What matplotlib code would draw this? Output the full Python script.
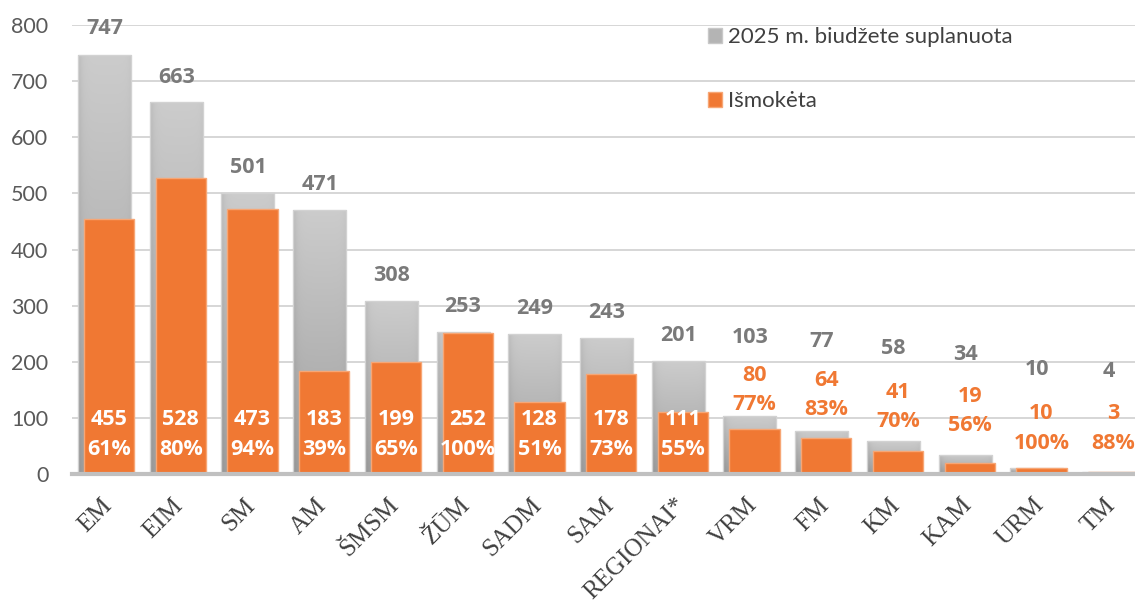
import numpy as np
import matplotlib
matplotlib.use("Agg")
import matplotlib.pyplot as plt
from matplotlib.patches import Rectangle

# ---------------- data ----------------
categories = ["EM", "EIM", "SM", "AM", "ŠMSM", "ŽŪM", "SADM", "SAM", "REGIONAI*",
              "VRM", "FM", "KM", "KAM", "URM", "TM"]
planned = [747, 663, 501, 471, 308, 253, 249, 243, 201, 103, 77, 58, 34, 10, 4]
paid = [455, 528, 473, 183, 199, 252, 128, 178, 111, 80, 64, 41, 19, 10, 3]
paid_pct = ["61%", "80%", "94%", "39%", "65%", "100%", "51%", "73%", "55%",
            "77%", "83%", "70%", "56%", "100%", "88%"]
legend_labels = ["2025 m. biudžete suplanuota", "Išmokėta"]
yticks = [0, 100, 200, 300, 400, 500, 600, 700, 800]

# label placement (data units, styling only)
planned_label_y = [793, 707, 546, 516, 353, 298, 295, 288, 247, 244, 236, 224, 213, 187, 183]
paid_label_y = [97] * 9 + [175, 166, 146, 138, 107, 107]
pct_label_y = [43] * 9 + [123, 115, 94, 87, 54, 54]
inside = [True] * 9 + [False] * 6

# ---------------- style ----------------
W, H = 1135, 604
fig = plt.figure(figsize=(W / 100, H / 100), dpi=100)
ax = fig.add_axes([72 / W, (H - 474) / H, (W - 72) / W, (474 - 25) / H])

ORANGE = "#F07833"
ORANGE_EDGE = "#F7A675"
GRAY_TXT = "#7A7A7A"
SANS = "Lato"
BOLD = "Open Sans"

x = np.arange(len(categories))
gray_w = 0.74
or_w = 0.70
or_off = 0.065

gray_bars = ax.bar(x, planned, width=gray_w, facecolor="none", edgecolor="#d2d2d2",
                   linewidth=1.0, zorder=2.2, label=legend_labels[0])
# gradient fill for gray bars
ny, nx = 128, 64
yy = np.linspace(0, 1, ny).reshape(-1, 1)
xx = np.linspace(0, 1, nx).reshape(1, -1)
base = 0.63 + 0.17 * yy            # darker at bottom, lighter at top
edge = 1 - 0.10 * np.exp(-xx / 0.06) - 0.04 * np.exp(-(1 - xx) / 0.05)
shade = np.clip(base * edge, 0, 1)
rgb = np.dstack([shade, shade, shade])
for b in gray_bars:
    x0, w, h = b.get_x(), b.get_width(), b.get_height()
    im = ax.imshow(rgb, origin="lower", extent=(x0, x0 + w, 0, h), aspect="auto",
                   interpolation="bilinear", zorder=2.1)
    im.set_clip_path(b)

ax.bar(x + or_off, paid, width=or_w, color=ORANGE, edgecolor=ORANGE_EDGE,
       linewidth=1.0, zorder=3, label=legend_labels[1])

ax.set_xlim(-0.453, 14.37)
ax.set_ylim(0, 800)
ax.set_yticks(yticks)
ax.set_yticklabels([str(v) for v in yticks], fontsize=15.5, color="#595959",
                   family=SANS)
ax.tick_params(axis="y", length=0, pad=17)
ax.set_xticks([])
ax.grid(axis="y", color="#d0d0d0", linewidth=1.2, zorder=0)
ax.set_axisbelow(True)
for s in ["top", "right", "left"]:
    ax.spines[s].set_visible(False)
ax.spines["bottom"].set_color("#c0c0c0")
ax.spines["bottom"].set_linewidth(3)
ax.spines["bottom"].set_zorder(4)

# category labels
for i, c in enumerate(categories):
    ax.text(i + 0.11, -32 / 449, c, transform=ax.get_xaxis_transform(),
            rotation=45, rotation_mode="anchor", ha="right", va="baseline",
            fontsize=18, family="Liberation Serif", color="#404040", clip_on=False)

# value labels
for i in range(len(categories)):
    ax.text(i, planned_label_y[i], str(planned[i]), ha="center", va="center",
            fontsize=15.5, fontweight="bold", color=GRAY_TXT, family=BOLD,
            zorder=6, clip_on=False)
    col = "white" if inside[i] else ORANGE
    ax.text(i + or_off, paid_label_y[i], str(paid[i]), ha="center", va="center",
            fontsize=15.5, fontweight="bold", color=col, family=BOLD, zorder=6)
    ax.text(i + or_off, pct_label_y[i], paid_pct[i], ha="center", va="center",
            fontsize=15.5, fontweight="bold", color=col, family=BOLD, zorder=6)

# legend
handles = [Rectangle((0, 0), 1, 1, facecolor="#b4b4b4", edgecolor="#c8c8c8"),
           Rectangle((0, 0), 1, 1, facecolor=ORANGE, edgecolor=ORANGE_EDGE)]
leg = fig.legend(handles, legend_labels, loc="upper left",
                 bbox_to_anchor=(708 / W, 1 - 27 / H), bbox_transform=fig.transFigure,
                 frameon=False, borderpad=0, borderaxespad=0, handlelength=0.65,
                 handleheight=0.65, handletextpad=0.25, labelspacing=2.0,
                 prop={"family": SANS, "size": 16})
for t in leg.get_texts():
    t.set_color("#404040")

fig.savefig("out.png", dpi=100)
